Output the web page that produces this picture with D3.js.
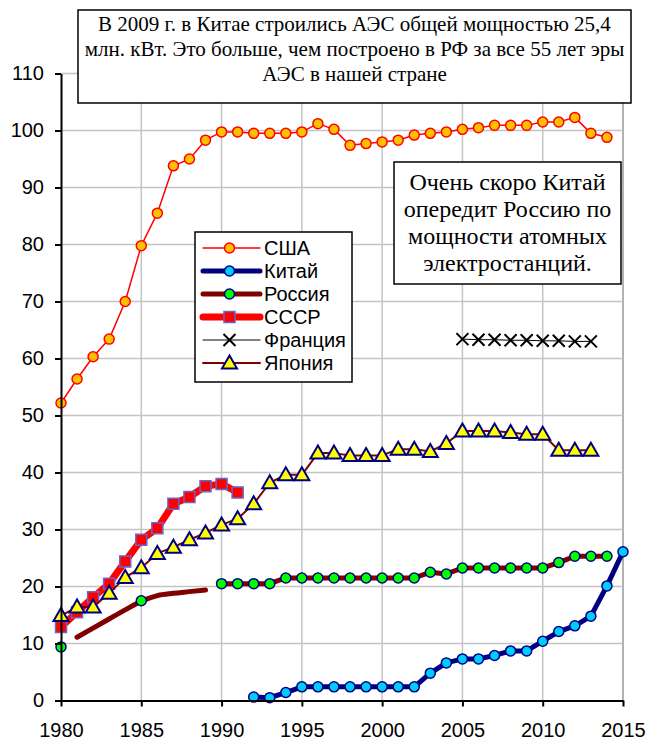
<!DOCTYPE html>
<html>
<head>
<meta charset="utf-8">
<script src="https://cdn.jsdelivr.net/npm/d3@7"></script>
<style>
  body { margin: 0; background: #fff; }
  svg { display: block; }
</style>
</head>
<body>
<div id="chart"></div>
<script>
// ---- data ----
const usaYears = d3.range(1980, 2015);
const usaValues = [52.2, 56.4, 60.3, 63.4, 70.0, 79.8, 85.5, 93.8, 95.0, 98.3,
  99.75, 99.75, 99.5, 99.5, 99.5, 99.75, 101.2, 100.2, 97.4, 97.7,
  98.0, 98.3, 99.2, 99.5, 99.75, 100.2, 100.5, 100.9, 100.9, 100.9,
  101.5, 101.5, 102.3, 99.5, 98.8];

const chinaYears = d3.range(1992, 2016);
const chinaValues = [0.6, 0.5, 1.4, 2.4, 2.4, 2.4, 2.4, 2.4, 2.4, 2.4, 2.4,
  4.8, 6.6, 7.3, 7.3, 7.9, 8.7, 8.7, 10.4, 12.1, 13.1, 14.8, 20.1, 26.1];

const russiaYears = d3.range(1990, 2015);
const russiaValues = [20.5, 20.5, 20.5, 20.5, 21.5, 21.5, 21.5, 21.5, 21.5, 21.5,
  21.5, 21.5, 21.5, 22.5, 22.2, 23.25, 23.25, 23.25, 23.25, 23.25,
  23.25, 24.2, 25.3, 25.3, 25.3];
// early Russia: separate points and a line without markers
const russiaEarlyYears = d3.range(1981, 1990);
const russiaEarlyValues = [11.1, 12.7, 14.3, 15.9, 17.4, 18.4, 18.8, 19.1, 19.4];
const russiaDotYears = [1980, 1985];
const russiaDotValues = [9.4, 17.5];

const ussrYears = d3.range(1980, 1992);
const ussrValues = [12.9, 15.5, 18.1, 20.5, 24.4, 28.2, 30.2, 34.5, 35.7, 37.6, 38.0, 36.5];

const franceYears = d3.range(2005, 2014);
const franceValues = [63.4, 63.3, 63.3, 63.2, 63.2, 63.1, 63.1, 63.0, 63.0];

const japanYears = d3.range(1980, 2014);
const japanValues = [14.9, 16.4, 16.4, 18.8, 21.6, 23.3, 25.8, 26.9, 28.2, 29.4,
  30.8, 31.9, 34.5, 38.2, 39.6, 39.6, 43.4, 43.4, 43.0, 43.0,
  43.0, 44.1, 44.1, 43.7, 45.1, 47.3, 47.3, 47.3, 47.0, 46.7,
  46.7, 43.9, 43.9, 43.9];

const xTicks = d3.range(1980, 2016, 5);
const yTicks = d3.range(0, 111, 10);

const legendNames = ["США", "Китай", "Россия", "СССР", "Франция", "Япония"];

const noteTop = ["В 2009 г. в Китае строились АЭС общей мощностью 25,4",
  "млн. кВт. Это больше, чем построено в РФ за все 55 лет эры",
  "АЭС в нашей стране"];
const noteRight = ["Очень скоро Китай", "опередит Россию по",
  "мощности атомных", "электростанций."];

// ---- styles ----
const styles = {
  "США":     { line: "#ff0000", lw: 1.5, marker: "circle", fill: "#ffc000", stroke: "#ff0000", sw: 1.5 },
  "Китай":   { line: "#000080", lw: 5,   marker: "circle", fill: "#00ccff", stroke: "#000080", sw: 1.5 },
  "Россия":  { line: "#800000", lw: 5,   marker: "circle", fill: "#00ff00", stroke: "#000080", sw: 1.5 },
  "СССР":    { line: "#ff0000", lw: 7,   marker: "square", fill: "#ff0000", stroke: "#6666cc", sw: 1.5 },
  "Франция": { line: "#000000", lw: 1,   marker: "x",      fill: "none",    stroke: "#000000", sw: 2 },
  "Япония":  { line: "#800000", lw: 2,   marker: "triangle", fill: "#ffff00", stroke: "#000080", sw: 2 }
};

const W = 648, H = 742;
const plot = { left: 61, right: 623, top: 73.5, bottom: 700.5 };

const svg = d3.select("#chart").append("svg")
  .attr("width", W).attr("height", H);

const x = d3.scaleLinear().domain([1980, 2015]).range([plot.left, plot.right]);
const y = d3.scaleLinear().domain([0, 110]).range([plot.bottom, plot.top]);

// grid
const grid = svg.append("g").attr("stroke", "#c4c4c4").attr("stroke-width", 1.5);
grid.selectAll(".gx").data(xTicks.slice(1)).join("line")
  .attr("x1", d => x(d)).attr("x2", d => x(d))
  .attr("y1", plot.top).attr("y2", plot.bottom)
  .attr("stroke", d => d === 2015 ? "#999" : null);
grid.selectAll(".gy").data(yTicks.slice(1)).join("line")
  .attr("x1", plot.left).attr("x2", plot.right)
  .attr("y1", d => y(d)).attr("y2", d => y(d));

function markerPath(type) {
  if (type === "square") return "M-5.5,-5.5H5.5V5.5H-5.5Z";
  if (type === "triangle") return "M0,-7.5L7.5,5.5H-7.5Z";
  if (type === "x") return "M-6,-6L6,6M-6,6L6,-6";
  return null;
}

function drawMarkers(g, name, years, values) {
  const s = styles[name];
  const pts = years.map((yr, i) => [yr, values[i]]);
  if (s.marker === "circle") {
    g.selectAll(null).data(pts).join("circle")
      .attr("cx", d => x(d[0])).attr("cy", d => y(d[1])).attr("r", 5)
      .attr("fill", s.fill).attr("stroke", s.stroke).attr("stroke-width", s.sw);
  } else {
    g.selectAll(null).data(pts).join("path")
      .attr("transform", d => `translate(${x(d[0])},${y(d[1])})`)
      .attr("d", markerPath(s.marker))
      .attr("fill", s.fill).attr("stroke", s.stroke).attr("stroke-width", s.sw)
      .attr("stroke-linejoin", "miter");
  }
}

function drawLine(g, name, years, values, curve) {
  const s = styles[name];
  const line = d3.line().x(d => x(d[0])).y(d => y(d[1])).curve(curve || d3.curveLinear);
  g.append("path")
    .datum(years.map((yr, i) => [yr, values[i]]))
    .attr("d", line)
    .attr("fill", "none").attr("stroke", s.line).attr("stroke-width", s.lw)
    .attr("stroke-linejoin", "round").attr("stroke-linecap", "round");
}

const series = svg.append("g");

let g = series.append("g");
drawLine(g, "США", usaYears, usaValues);
drawMarkers(g, "США", usaYears, usaValues);

g = series.append("g");
drawLine(g, "Китай", chinaYears, chinaValues);
drawMarkers(g, "Китай", chinaYears, chinaValues);

g = series.append("g");
drawLine(g, "Россия", russiaEarlyYears, russiaEarlyValues, d3.curveMonotoneX);
drawLine(g, "Россия", russiaYears, russiaValues);
drawMarkers(g, "Россия", russiaDotYears, russiaDotValues);
drawMarkers(g, "Россия", russiaYears, russiaValues);

g = series.append("g");
drawLine(g, "СССР", ussrYears, ussrValues);
drawMarkers(g, "СССР", ussrYears, ussrValues);

g = series.append("g");
drawLine(g, "Франция", franceYears, franceValues);
drawMarkers(g, "Франция", franceYears, franceValues);

g = series.append("g");
drawLine(g, "Япония", japanYears, japanValues);
drawMarkers(g, "Япония", japanYears, japanValues);

// axes
const axisFont = "'Liberation Sans', Arial, sans-serif";
const yAxis = svg.append("g")
  .attr("transform", `translate(${plot.left},0)`)
  .call(d3.axisLeft(y).tickValues(yTicks).tickSize(6).tickSizeOuter(0).tickPadding(11));
const xAxis = svg.append("g")
  .attr("transform", `translate(0,${plot.bottom})`)
  .call(d3.axisBottom(x).tickValues(xTicks).tickSize(6).tickSizeOuter(0).tickPadding(16).tickFormat(d3.format("d")));
[xAxis, yAxis].forEach(a => {
  a.select(".domain").attr("stroke", "#000").attr("stroke-width", 2);
  a.selectAll(".tick line").attr("stroke", "#000").attr("stroke-width", 2);
  a.selectAll(".tick text").attr("font-family", axisFont).attr("font-size", 20).attr("fill", "#000");
});

// legend
const legend = svg.append("g");
legend.append("rect")
  .attr("x", 195).attr("y", 232).attr("width", 157).attr("height", 150)
  .attr("fill", "#fff").attr("stroke", "#000").attr("stroke-width", 1.5);
legendNames.forEach((name, i) => {
  const s = styles[name];
  const cy = 248 + i * 23;
  const row = legend.append("g");
  row.append("line")
    .attr("x1", 203).attr("x2", 260).attr("y1", cy).attr("y2", cy)
    .attr("stroke", s.line).attr("stroke-width", s.lw).attr("stroke-linecap", "round");
  if (s.marker === "circle") {
    row.append("circle").attr("cx", 229.5).attr("cy", cy).attr("r", 5)
      .attr("fill", s.fill).attr("stroke", s.stroke).attr("stroke-width", s.sw);
  } else {
    row.append("path").attr("transform", `translate(229.5,${cy})`)
      .attr("d", markerPath(s.marker))
      .attr("fill", s.fill).attr("stroke", s.stroke).attr("stroke-width", s.sw);
  }
  row.append("text")
    .attr("x", 264).attr("y", cy).attr("dy", "0.36em")
    .attr("font-family", axisFont).attr("font-size", 20)
    .text(name);
});

// notes
const serif = "'Liberation Serif', 'Times New Roman', serif";
function note(box, lines, size, firstY, step) {
  const n = svg.append("g");
  n.append("rect")
    .attr("x", box[0]).attr("y", box[1]).attr("width", box[2]).attr("height", box[3])
    .attr("fill", "#fff").attr("stroke", "#000").attr("stroke-width", 1.5);
  n.selectAll("text").data(lines).join("text")
    .attr("x", box[0] + box[2] / 2)
    .attr("y", (d, i) => firstY + i * step).attr("dy", "0.35em")
    .attr("text-anchor", "middle")
    .attr("font-family", serif).attr("font-size", size)
    .text(d => d);
}
note([78, 10, 553, 93], noteTop, 21, 24, 25);
note([394, 162, 227, 122], noteRight, 24, 182, 27);
</script>
</body>
</html>
